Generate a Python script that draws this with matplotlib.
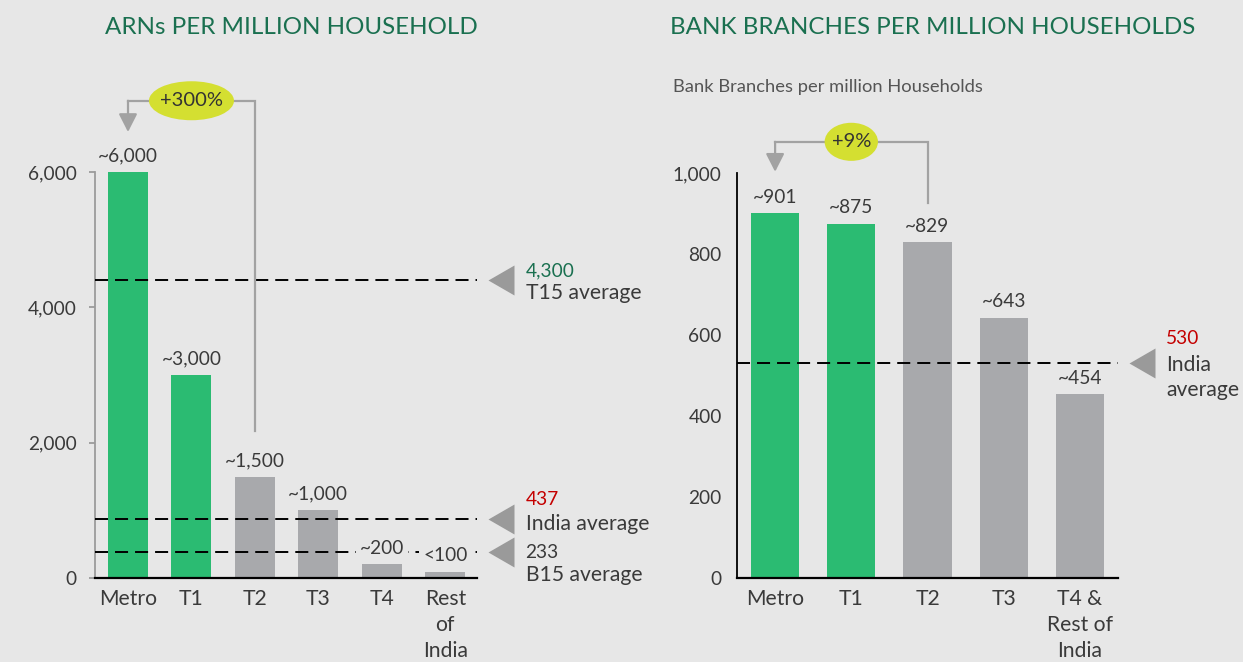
import matplotlib
matplotlib.use('Agg')
import matplotlib.pyplot as plt
from matplotlib.patches import Ellipse
from matplotlib.transforms import blended_transform_factory

# ---------------- data ----------------
arn_categories = ['Metro', 'T1', 'T2', 'T3', 'T4', 'Rest\nof\nIndia']
arn_values = [6000, 3000, 1500, 1000, 200, 95]
arn_value_labels = ['~6,000', '~3,000', '~1,500', '~1,000', '~200', '<100']
arn_highlight = [True, True, False, False, False, False]
arn_ticks = [0, 2000, 4000, 6000]
arn_ref_lines = [4400, 876, 378]          # drawn positions of dashed lines
arn_ref_values = ['4,300', '437', '233']
arn_ref_names = ['T15 average', 'India average', 'B15 average']
arn_change = '+300%'

bank_categories = ['Metro', 'T1', 'T2', 'T3', 'T4 &\nRest of\nIndia']
bank_values = [901, 875, 829, 643, 454]
bank_value_labels = ['~901', '~875', '~829', '~643', '~454']
bank_highlight = [True, True, False, False, False]
bank_ticks = [0, 200, 400, 600, 800, 1000]
bank_ref_lines = [530]
bank_ref_values = ['530']
bank_ref_names = ['India\naverage']
bank_change = '+9%'

# ---------------- style ----------------
BG = '#e7e7e7'
GREEN = '#2bbb72'
GREY_BAR = '#a8a9ac'
TXT = '#3a3a3a'
TITLE_GREEN = '#1a7050'
RED = '#c40000'
CONN = '#a2a2a2'
YEL = '#d4df31'
NUM_FS = 13.8
WORD_FS = 15.2

plt.rcParams['font.family'] = ['Lato', 'DejaVu Sans']

fig = plt.figure(figsize=(12.43, 6.62), dpi=100, facecolor=BG)
W, H = 1243, 662


def px_axes(l, t, r, b):
    return fig.add_axes([l / W, 1 - b / H, (r - l) / W, (b - t) / H])


def draw_panel(ax, cats, vals, vlabels, hl, ticks, ylim, refs, ref_vals, ref_names,
               ref_val_off, ref_name_off, ref_val_colors, spine_color, tick_len, tick_pad,
               bar_w):
    ax.set_facecolor(BG)
    x = list(range(len(cats)))
    colors = [GREEN if h else GREY_BAR for h in hl]
    ax.bar(x, vals, width=bar_w, color=colors, zorder=2)
    ax.set_xlim(-0.5, len(cats) - 0.5)
    ax.set_ylim(*ylim)
    ax.set_yticks(ticks)
    ax.set_yticklabels([f'{t:,}' for t in ticks])
    ax.set_xticks(x)
    ax.set_xticklabels(cats, linespacing=1.37)
    for s in ['top', 'right']:
        ax.spines[s].set_visible(False)
    ax.spines['left'].set_color(spine_color)
    ax.spines['left'].set_linewidth(1.3)
    ax.spines['bottom'].set_color('black')
    ax.spines['bottom'].set_linewidth(1.6)
    ax.spines['bottom'].set_zorder(4)
    ax.tick_params(axis='y', length=tick_len, width=1.3, color=spine_color, pad=tick_pad,
                   labelsize=NUM_FS, labelcolor=TXT)
    ax.tick_params(axis='x', length=0, pad=8, labelsize=WORD_FS, labelcolor=TXT)
    for xi, v, lab in zip(x, vals, vlabels):
        ax.annotate(lab, (xi, v), xytext=(0, 11.5), textcoords='offset points',
                    ha='center', va='center', fontsize=NUM_FS, color=TXT, zorder=6,
                    bbox=dict(boxstyle='square,pad=0.2', fc=BG, ec='none'))
    bt = blended_transform_factory(ax.transAxes, ax.transData)
    for r, rv, rn, vo, no, vc in zip(refs, ref_vals, ref_names, ref_val_off, ref_name_off,
                                      ref_val_colors):
        ax.axhline(r, color='black', lw=1.4, dashes=(6.7, 3.6), zorder=3)
        ax.plot([1.063], [r], marker=[(-13, 0), (13, 15), (13, -15)], markersize=21.6,
                color='#9a9a9a', mec='none', transform=bt, clip_on=False)
        ax.annotate(rv, (1.127, r), xycoords=bt, xytext=(0, vo), textcoords='offset points',
                    ha='left', va='center', fontsize=NUM_FS, color=vc)
        ax.annotate(rn, (1.127, r), xycoords=bt, xytext=(0, no), textcoords='offset points',
                    ha='left', va='center', fontsize=WORD_FS, color=TXT, linespacing=1.3)


def draw_bracket(ax, top_y, tip_y, end_y, to_idx, mid_idx, ell_w, ell_h, text):
    ax.plot([0, to_idx, to_idx], [top_y, top_y, end_y], color=CONN, lw=1.6,
            clip_on=False, zorder=3, solid_joinstyle='miter')
    ax.annotate('', xy=(0, tip_y), xytext=(0, top_y),
                arrowprops=dict(arrowstyle='-|>,head_length=0.55,head_width=0.28',
                                color=CONN, lw=1.6, shrinkA=0, shrinkB=0,
                                mutation_scale=20),
                annotation_clip=False)
    ax.add_patch(Ellipse((mid_idx, top_y), ell_w, ell_h, facecolor=YEL, edgecolor='none',
                         clip_on=False, zorder=4))
    ax.text(mid_idx, top_y, text, ha='center', va='center', fontsize=14.5, color='#333333',
            zorder=5, clip_on=False)


# left panel
ax1 = px_axes(95, 172, 477, 578)
draw_panel(ax1, arn_categories, arn_values, arn_value_labels, arn_highlight, arn_ticks,
           (0, 6000), arn_ref_lines, arn_ref_values, arn_ref_names,
           ref_val_off=[7, 13.7, 0], ref_name_off=[-9.5, -3.6, -16],
           ref_val_colors=[TITLE_GREEN, RED, TXT], spine_color='#9b9b9b',
           tick_len=4.3, tick_pad=9, bar_w=0.63)
ax1.set_xlim(-0.52, 5.5)
draw_bracket(ax1, 7053, 6591, 2170, 2, 1, 1.34, 576, arn_change)

# right panel
ax2 = px_axes(737, 173, 1118, 578)
draw_panel(ax2, bank_categories, bank_values, bank_value_labels, bank_highlight, bank_ticks,
           (0, 1000), bank_ref_lines, bank_ref_values, bank_ref_names,
           ref_val_off=[18], ref_name_off=[-10],
           ref_val_colors=[RED], spine_color='black', tick_len=0, tick_pad=11, bar_w=0.63)
draw_bracket(ax2, 1077, 1003, 927, 2, 1, 0.70, 94, bank_change)

# titles
fig.text(291 / W, 1 - 27 / H, 'ARNs PER MILLION HOUSEHOLD', ha='center', va='center',
         fontsize=17.4, color=TITLE_GREEN)
fig.text(933 / W, 1 - 27 / H, 'BANK BRANCHES PER MILLION HOUSEHOLDS', ha='center',
         va='center', fontsize=17.4, color=TITLE_GREEN)
fig.text(673 / W, 1 - 87 / H, 'Bank Branches per million Households', ha='left',
         va='center', fontsize=13.2, color='#555555')

fig.savefig('out.png', dpi=100, facecolor=BG)
